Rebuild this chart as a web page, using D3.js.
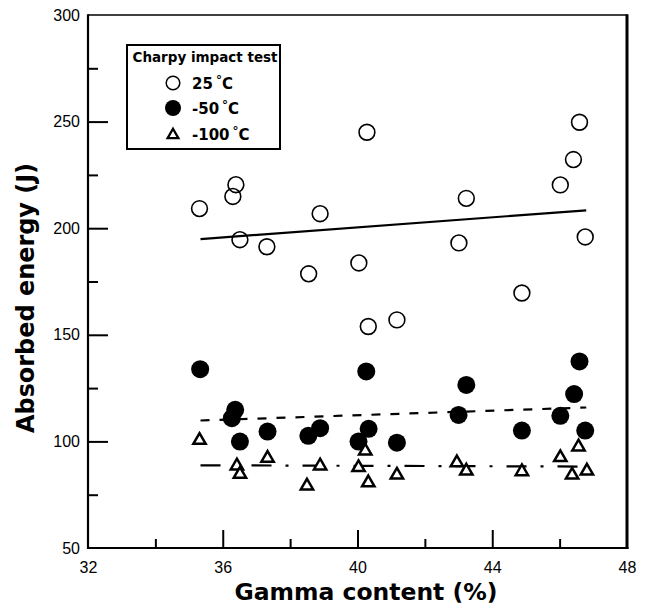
<!DOCTYPE html>
<html>
<head>
<meta charset="utf-8">
<script src="https://cdn.jsdelivr.net/npm/d3@7"></script>
<style>
  html, body { margin: 0; padding: 0; background: #fff; }
  svg { display: block; }
</style>
</head>
<body>
<svg id="chart" width="647" height="609"></svg>
<script>
// Gamma content (%) and absorbed energy (J) for each Charpy test temperature
const gamma25 = [35.31, 36.39, 36.30, 36.51, 37.31, 38.55, 38.89, 40.28, 40.04, 40.32, 41.17, 43.23, 43.01, 44.88, 46.02, 46.41, 46.59, 46.76];
const energy25 = [209.2, 220.4, 214.9, 194.6, 191.3, 178.6, 206.8, 245.0, 183.7, 153.9, 157.0, 214.0, 193.1, 169.6, 220.3, 232.2, 249.7, 195.9];

const gamma50 = [35.33, 36.37, 36.27, 36.51, 37.33, 38.54, 38.89, 40.26, 40.33, 40.03, 41.17, 43.23, 43.00, 44.88, 46.02, 46.43, 46.59, 46.76];
const energy50 = [133.9, 114.8, 110.9, 99.9, 104.6, 102.6, 106.2, 132.8, 105.9, 99.9, 99.4, 126.5, 112.4, 105.1, 112.0, 122.2, 137.5, 105.1];

const gamma100 = [35.31, 36.42, 36.51, 37.33, 38.50, 38.89, 40.23, 40.03, 40.32, 41.17, 42.95, 43.23, 46.56, 46.02, 44.88, 46.37, 46.81];
const energy100 = [101.0, 89.0, 85.1, 92.6, 79.6, 89.0, 96.0, 88.2, 81.1, 84.7, 90.5, 86.6, 97.9, 92.9, 86.3, 84.7, 86.6];

// Linear fits: [start, end] in gamma content and energy
const fitGamma = [35.34, 46.79];
const fit25 = [194.9, 208.4];
const fit50 = [109.8, 115.9];
const fit100 = [88.8, 88.2];

// Axis ticks
const xMajorTicks = [32, 36, 40, 44, 48];
const xMinorTicks = [34, 38, 42, 46];
const yMajorTicks = [50, 100, 150, 200, 250, 300];
const yMinorTicks = [75, 125, 175, 225, 275];

const legendTitle = "Charpy impact test";
const legendLabels = ["25", "-50", "-100"];

const svg = d3.select("#chart");
const plotLeft = 88, plotRight = 627, plotTop = 15, plotBottom = 548;

const x = d3.scaleLinear().domain([32, 48]).range([plotLeft, plotRight]);
const y = d3.scaleLinear().domain([50, 300]).range([plotBottom, plotTop]);

const tickFont = "'Liberation Sans', Arial, sans-serif";
const boldFont = "'DejaVu Sans', sans-serif";

// Axes: inward ticks, labels outside
const yAxisMajor = d3.axisLeft(y).tickValues(yMajorTicks).tickSize(-20).tickPadding(8).tickFormat(d3.format("d"));
const yAxisMinor = d3.axisLeft(y).tickValues(yMinorTicks).tickSize(-10).tickFormat("");
const xAxisMajor = d3.axisBottom(x).tickValues(xMajorTicks).tickSize(-18).tickPadding(14).tickFormat(d3.format("d"));
const xAxisMinor = d3.axisBottom(x).tickValues(xMinorTicks).tickSize(-9).tickFormat("");

function styleAxis(g) {
  g.select(".domain").remove();
  g.selectAll(".tick line").attr("stroke", "#000").attr("stroke-width", 2);
  g.selectAll(".tick text").attr("fill", "#000").attr("font-family", tickFont).attr("font-size", 16);
}

const gy = svg.append("g").attr("transform", `translate(${plotLeft},0)`).call(yAxisMajor).call(styleAxis);
gy.selectAll(".tick").filter(d => d === 300 || d === 50).select("line").remove();
svg.append("g").attr("transform", `translate(${plotLeft},0)`).call(yAxisMinor).call(styleAxis);
const gx = svg.append("g").attr("transform", `translate(0,${plotBottom})`).call(xAxisMajor).call(styleAxis);
gx.selectAll(".tick").filter(d => d === 32 || d === 48).select("line").remove();
svg.append("g").attr("transform", `translate(0,${plotBottom})`).call(xAxisMinor).call(styleAxis);

// Plot frame
svg.append("line").attr("x1", plotLeft).attr("x2", plotRight).attr("y1", plotTop).attr("y2", plotTop)
  .attr("stroke", "#000").attr("stroke-width", 1.6);
svg.append("line").attr("x1", plotLeft).attr("x2", plotRight + 1.5).attr("y1", plotBottom).attr("y2", plotBottom)
  .attr("stroke", "#000").attr("stroke-width", 2.2);
svg.append("line").attr("x1", plotLeft).attr("x2", plotLeft).attr("y1", plotTop - 0.8).attr("y2", plotBottom + 1)
  .attr("stroke", "#000").attr("stroke-width", 2.2);
svg.append("line").attr("x1", plotRight).attr("x2", plotRight).attr("y1", plotTop - 0.8).attr("y2", plotBottom + 1)
  .attr("stroke", "#000").attr("stroke-width", 3);

// Fit lines
const fitLine = (vals, dash, w) => {
  svg.append("line")
    .attr("x1", x(fitGamma[0])).attr("y1", y(vals[0]))
    .attr("x2", x(fitGamma[1])).attr("y2", y(vals[1]))
    .attr("stroke", "#000").attr("stroke-width", w)
    .attr("stroke-dasharray", dash);
};
fitLine(fit25, null, 2.2);
fitLine(fit50, "9,10", 2.2);
fitLine(fit100, "20,14,3,14", 2.2);

// Markers
const triangle = d3.symbol().type(d3.symbolTriangle).size(66);

svg.append("g").selectAll("circle").data(d3.zip(gamma25, energy25)).join("circle")
  .attr("cx", d => x(d[0])).attr("cy", d => y(d[1])).attr("r", 7.9)
  .attr("fill", "none").attr("stroke", "#000").attr("stroke-width", 1.6);

svg.append("g").selectAll("circle").data(d3.zip(gamma50, energy50)).join("circle")
  .attr("cx", d => x(d[0])).attr("cy", d => y(d[1])).attr("r", 9)
  .attr("fill", "#000");

svg.append("g").selectAll("path").data(d3.zip(gamma100, energy100)).join("path")
  .attr("d", triangle)
  .attr("transform", d => `translate(${x(d[0])},${y(d[1]) + 1})`)
  .attr("fill", "#fff").attr("stroke", "#000").attr("stroke-width", 2.5)
  .attr("stroke-linejoin", "miter");

// Axis titles
svg.append("text")
  .attr("x", 366).attr("y", 600)
  .attr("text-anchor", "middle")
  .attr("font-family", boldFont).attr("font-weight", "bold").attr("font-size", 23)
  .attr("textLength", 263).attr("lengthAdjust", "spacingAndGlyphs")
  .text("Gamma content (%)");

svg.append("text")
  .attr("transform", "translate(34,298) rotate(-90)")
  .attr("text-anchor", "middle")
  .attr("font-family", boldFont).attr("font-weight", "bold").attr("font-size", 24)
  .attr("textLength", 270).attr("lengthAdjust", "spacingAndGlyphs")
  .text("Absorbed energy (J)");

// Legend
const lg = svg.append("g");
lg.append("rect").attr("x", 127).attr("y", 45).attr("width", 153).attr("height", 104)
  .attr("fill", "#fff").attr("stroke", "#000").attr("stroke-width", 2);
lg.append("text").attr("x", 205).attr("y", 62).attr("text-anchor", "middle")
  .attr("font-family", boldFont).attr("font-weight", "bold").attr("font-size", 13.5)
  .attr("textLength", 145).attr("lengthAdjust", "spacingAndGlyphs")
  .text(legendTitle);

const legendY = [83, 108, 134];
lg.append("circle").attr("cx", 173).attr("cy", legendY[0]).attr("r", 6.8)
  .attr("fill", "none").attr("stroke", "#000").attr("stroke-width", 1.5);
lg.append("circle").attr("cx", 173).attr("cy", legendY[1]).attr("r", 8).attr("fill", "#000");
lg.append("path").attr("d", d3.symbol().type(d3.symbolTriangle).size(50))
  .attr("transform", `translate(173,${legendY[2] + 1})`)
  .attr("fill", "#fff").attr("stroke", "#000").attr("stroke-width", 2.3);

legendLabels.forEach((lab, i) => {
  const t = lg.append("text").attr("x", 192).attr("y", legendY[i] + 5.5)
    .attr("font-family", boldFont).attr("font-weight", "bold").attr("font-size", 15);
  t.append("tspan").text(lab);
  t.append("tspan").attr("dx", 3).attr("dy", -5).attr("font-size", 12).text("°");
  t.append("tspan").attr("dy", 5).text("C");
});
</script>
</body>
</html>
